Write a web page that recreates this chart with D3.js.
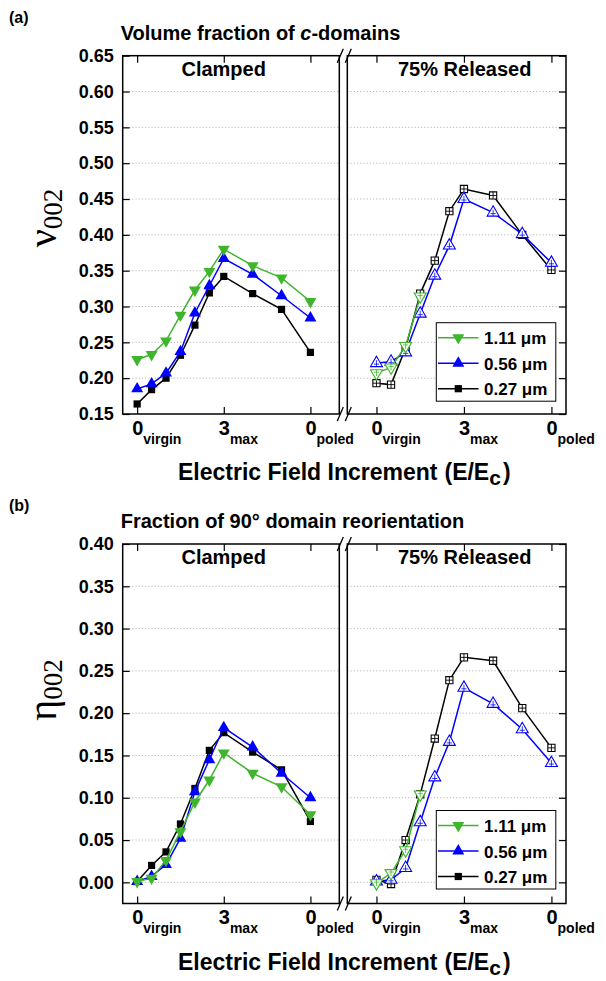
<!DOCTYPE html>
<html>
<head>
<meta charset="utf-8">
<script src="https://cdn.jsdelivr.net/npm/d3@7/dist/d3.min.js"></script>
<style>
  html, body { margin: 0; padding: 0; background: #fff; }
  svg { display: block; }
  text { font-family: "Liberation Sans", Arial, sans-serif; }
</style>
</head>
<body>
<svg id="chart" width="606" height="981"></svg>
<script>
// ---------------- DATA ----------------
const xSteps = [0, 0.5, 1, 1.5, 2, 2.5, 3, 4, 5, 6];
const xTickVals = [0, 3, 6];
const xTickMain = ["0", "3", "0"];
const xTickSub = ["virgin", "max", "poled"];
const seriesNames = ["1.11 \u03bcm", "0.56 \u03bcm", "0.27 \u03bcm"];
const seriesColors = ["#3fb52d", "#0000ff", "#000000"];
const seriesShapes = ["down", "up", "square"];

const nuTicks = [0.15, 0.20, 0.25, 0.30, 0.35, 0.40, 0.45, 0.50, 0.55, 0.60, 0.65];
const etaTicks = [0.00, 0.05, 0.10, 0.15, 0.20, 0.25, 0.30, 0.35, 0.40];

const nuClamped111 = [0.226, 0.233, 0.252, 0.288, 0.323, 0.349, 0.380, 0.357, 0.340, 0.307];
const nuClamped056 = [0.185, 0.192, 0.207, 0.237, 0.291, 0.329, 0.367, 0.345, 0.315, 0.284];
const nuClamped027 = [0.164, 0.184, 0.200, 0.232, 0.274, 0.319, 0.342, 0.318, 0.296, 0.236];
const nuReleased111 = [0.207, 0.215, 0.245, 0.314];
const nuReleased056 = [0.221, 0.223, 0.236, 0.290, 0.343, 0.385, 0.450, 0.431, 0.401, 0.361];
const nuReleased027 = [0.193, 0.191, 0.242, 0.318, 0.364, 0.433, 0.464, 0.455, 0.400, 0.351];

const etaClamped111 = [0.001, 0.005, 0.026, 0.060, 0.095, 0.121, 0.153, 0.129, 0.113, 0.080];
const etaClamped056 = [0.001, 0.007, 0.021, 0.052, 0.107, 0.145, 0.183, 0.160, 0.129, 0.100];
const etaClamped027 = [0.001, 0.020, 0.036, 0.069, 0.111, 0.156, 0.177, 0.154, 0.133, 0.072];
const etaReleased111 = [-0.001, 0.011, 0.038, 0.104];
const etaReleased056 = [0.001, 0.003, 0.017, 0.071, 0.124, 0.166, 0.230, 0.211, 0.181, 0.141];
const etaReleased027 = [0.003, -0.002, 0.050, 0.104, 0.170, 0.239, 0.266, 0.262, 0.206, 0.159];

// ---------------- LAYOUT ----------------
const svg = d3.select("#chart");
const FONT = '"Liberation Sans", Arial, sans-serif';
const SERIF = '"Liberation Serif", "Times New Roman", serif';

const xLeft = d3.scaleLinear().domain([-0.5, 7]).range([122.7, 339.3]);
const xRight = d3.scaleLinear().domain([-1, 6.5]).range([347.3, 566]);

const panels = [
  {
    tag: "(a)", tagY: 23,
    title: [["Volume fraction of ", "normal"], ["c", "italic"], ["-domains", "normal"]], titleY: 40,
    y: d3.scaleLinear().domain([0.15, 0.65]).range([414, 55.7]),
    ticks: nuTicks,
    sym: "\u03bd",
    ylabY: 218,
    clamped: [nuClamped027, nuClamped056, nuClamped111],
    released: [nuReleased027, nuReleased056, nuReleased111],
    legendTop: 322.7
  },
  {
    tag: "(b)", tagY: 511,
    title: [["Fraction of 90\u00b0 domain reorientation", "normal"]], titleY: 528,
    y: d3.scaleLinear().domain([-0.025, 0.40]).range([903.5, 544]),
    ticks: etaTicks,
    sym: "\u03b7",
    ylabY: 690,
    clamped: [etaClamped027, etaClamped056, etaClamped111],
    released: [etaReleased027, etaReleased056, etaReleased111],
    legendTop: 810.5
  }
];
const drawOrder = [2, 1, 0];

function symPath(shape) {
  if (shape === "square") return d3.symbol(d3.symbolSquare, 52)();
  return d3.symbol(d3.symbolTriangle, 62)();
}

panels.forEach(p => {
  const g = svg.append("g");
  const y = p.y;
  const [y0, y1] = y.range();

  g.append("text").attr("x", 9).attr("y", p.tagY)
    .attr("font-size", 16).attr("font-weight", "bold").text(p.tag);

  const t = g.append("text").attr("x", 120.7).attr("y", p.titleY)
    .attr("font-size", 20).attr("font-weight", "bold");
  p.title.forEach(([s, st]) => t.append("tspan").attr("font-style", st).text(s));

  [[xLeft, "left"], [xRight, "right"]].forEach(([x, side]) => {
    const [xa, xb] = x.range();
    g.append("g").selectAll("line")
      .data(p.ticks.filter(v => y(v) < y0 - 2 && y(v) > y1 + 2))
      .join("line")
      .attr("x1", xa).attr("x2", xb)
      .attr("y1", d => y(d)).attr("y2", d => y(d))
      .attr("stroke", "#b8b8b8").attr("stroke-width", 1)
      .attr("stroke-dasharray", "1.2,2");

    g.append("rect").attr("x", xa).attr("y", y1).attr("width", xb - xa).attr("height", y0 - y1)
      .attr("fill", "none").attr("stroke", "#000").attr("stroke-width", 1.5);

    const bot = g.append("g").attr("transform", `translate(0,${y0})`)
      .call(d3.axisBottom(x).tickValues(xTickVals).tickSize(-7).tickSizeOuter(0).tickFormat(() => ""));
    bot.select(".domain").remove();
    bot.selectAll(".tick line").attr("stroke-width", 1.2);
    bot.selectAll(".tick text").each(function(d, i) {
      const tx = d3.select(this).attr("text-anchor", "start").attr("x", -5.5).attr("y", 0).attr("dy", 0)
        .attr("fill", "#000").style("font-family", FONT).attr("font-weight", "bold");
      tx.append("tspan").attr("y", 20.5).attr("font-size", 20).text(xTickMain[i]);
      tx.append("tspan").attr("y", 29.5).attr("font-size", 14).text(xTickSub[i]);
    });

    const top = g.append("g").attr("transform", `translate(0,${y1})`)
      .call(d3.axisTop(x).tickValues(xTickVals).tickSize(-7).tickSizeOuter(0).tickFormat(() => ""));
    top.select(".domain").remove();
    top.selectAll(".tick line").attr("stroke-width", 1.2);

    if (side === "left") {
      const ax = g.append("g").attr("transform", `translate(${xa},0)`)
        .call(d3.axisLeft(y).tickValues(p.ticks).tickSize(-7).tickSizeOuter(0).tickPadding(9)
          .tickFormat(d3.format(".2f")));
      ax.select(".domain").remove();
      ax.selectAll(".tick line").attr("stroke-width", 1.2);
      ax.selectAll(".tick text").attr("font-size", 18).attr("font-weight", "bold")
        .attr("fill", "#000").style("font-family", FONT);
    } else {
      const ax = g.append("g").attr("transform", `translate(${xb},0)`)
        .call(d3.axisRight(y).tickValues(p.ticks).tickSize(-7).tickSizeOuter(0).tickFormat(() => ""));
      ax.select(".domain").remove();
      ax.selectAll(".tick line").attr("stroke-width", 1.2);
    }

    g.append("text").attr("x", (side === "left") ? 223.7 : 464.7).attr("y", y1 + 20)
      .attr("text-anchor", "middle").attr("font-size", 20).attr("font-weight", "bold")
      .text(side === "left" ? "Clamped" : "75% Released");

    const sets = side === "left" ? p.clamped : p.released;
    drawOrder.forEach(k => {
      const vals = sets[2 - k];
      const pts = vals.map((v, i) => [xSteps[i], v]);
      const color = seriesColors[k];
      g.append("path").datum(pts)
        .attr("fill", "none").attr("stroke", color).attr("stroke-width", 1.5)
        .attr("d", d3.line().x(d => x(d[0])).y(d => y(d[1])));
      const shape = seriesShapes[k];
      const mg = g.append("g").selectAll("g").data(pts).join("g")
        .attr("transform", d => `translate(${x(d[0])},${y(d[1])})${shape === "down" ? " rotate(180)" : ""}`);
      if (side === "left") {
        mg.append("path").attr("d", symPath(shape)).attr("fill", color);
      } else {
        mg.append("path").attr("d", symPath(shape)).attr("fill", "#fff")
          .attr("stroke", color).attr("stroke-width", 1.1);
        if (shape === "square") {
          mg.append("path").attr("d", "M-3.6,0H3.6M0,-3.6V3.6").attr("stroke", color).attr("stroke-width", 0.9);
        } else {
          mg.append("path").attr("d", "M-2.6,1H2.6M0,-3V3.5").attr("stroke", color).attr("stroke-width", 0.8);
        }
      }
    });
  });

  [y1, y0].forEach(yy => {
    [340.3, 348.3].forEach(xx => {
      g.append("line").attr("x1", xx - 3).attr("y1", yy + 7).attr("x2", xx + 3).attr("y2", yy - 7)
        .attr("stroke", "#000").attr("stroke-width", 1.3);
    });
  });

  const yl = g.append("text").attr("transform", `translate(56,${p.ylabY}) rotate(-90)`)
    .attr("text-anchor", "middle").style("font-family", SERIF).attr("font-size", 40);
  yl.append("tspan").text(p.sym);
  yl.append("tspan").attr("font-size", 27).attr("dy", 6).text("002");

  const xt = g.append("text").attr("x", 178).attr("y", y0 + 66)
    .attr("font-size", 23).attr("font-weight", "bold");
  xt.append("tspan").text("Electric Field Increment");
  xt.append("tspan").attr("dx", 7).text("(E/E");
  xt.append("tspan").attr("font-size", 21).attr("dy", 5).text("c");
  xt.append("tspan").attr("dy", -5).attr("dx", 2).text(")");

  const lt = p.legendTop;
  const lg = g.append("g");
  lg.append("rect").attr("x", 436.3).attr("y", lt).attr("width", 119.5).attr("height", 78.5)
    .attr("fill", "#fff").attr("stroke", "#000").attr("stroke-width", 1);
  [0, 1, 2].forEach(k => {
    const ly = lt + 15 + k * 25.5;
    lg.append("line").attr("x1", 438).attr("x2", 478.5).attr("y1", ly).attr("y2", ly)
      .attr("stroke", seriesColors[k]).attr("stroke-width", 1.5);
    lg.append("path").attr("d", symPath(seriesShapes[k]))
      .attr("transform", `translate(458.3,${ly})${seriesShapes[k] === "down" ? " rotate(180)" : ""}`)
      .attr("fill", seriesColors[k]);
    lg.append("text").attr("x", 484).attr("y", ly + 6.5).attr("font-size", 17).attr("font-weight", "bold")
      .text(seriesNames[k]);
  });
});
</script>
</body>
</html>
